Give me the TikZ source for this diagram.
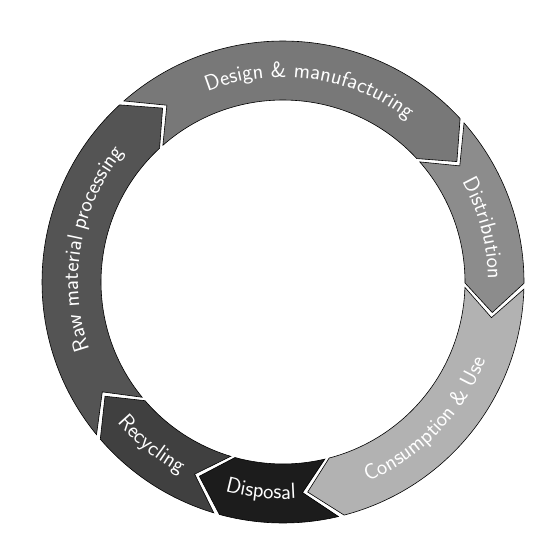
\documentclass[tikz,border=0pt]{standalone}
\usetikzlibrary{decorations.text}
\definecolor{cRaw}{gray}{0.33}
\definecolor{cDesign}{gray}{0.47}
\definecolor{cDist}{gray}{0.55}
\definecolor{cCons}{gray}{0.70}
\definecolor{cDisp}{gray}{0.11}
\definecolor{cRec}{gray}{0.25}
\newcommand\ringseg[3]{%
  \fill[#3, draw=black, line width=0.6pt]
    ({#1-0.7}:241pt) arc[start angle={#1-0.7}, end angle={#2+0.7}, radius=241pt]
    -- ({#2+0.7-8}:211.5pt) -- ({#2+0.7}:182pt)
    arc[start angle={#2+0.7}, end angle={#1-0.7}, radius=182pt]
    -- ({#1-0.7-8}:211.5pt) -- cycle;}
\newcommand\toptext[2]{%
  \path[decorate, decoration={text along path, text align=center, text color=white,
    text={|\sffamily\fontsize{22}{26}\selectfont|#2}}]
    ({#1+70}:205pt) arc[start angle={#1+70}, end angle={#1-70}, radius=205pt];}
\newcommand\bottext[2]{%
  \path[decorate, decoration={text along path, text align=center, text color=white,
    text={|\sffamily\fontsize{22}{26}\selectfont|#2}}]
    ({#1-70}:217pt) arc[start angle={#1-70}, end angle={#1+70}, radius=217pt];}
\begin{document}
\begin{tikzpicture}
\useasboundingbox (0,0) rectangle (540pt,542pt);
\begin{scope}[shift={(283pt,260pt)}]
  \ringseg{220}{132}{cRaw}
  \ringseg{132}{42}{cDesign}
  \ringseg{42}{-1}{cDist}
  \ringseg{-1}{-76}{cCons}
  \ringseg{-76}{-106}{cDisp}
  \ringseg{-106}{-140}{cRec}
  \toptext{170}{Raw material processing}
  \toptext{82}{Design {\&} manufacturing}
  \toptext{15}{Distribution}
  \bottext{-44}{Consumption {\&} Use}
  \bottext{-96}{Disposal}
  \bottext{-129}{Recycling}
\end{scope}
\end{tikzpicture}
\end{document}
